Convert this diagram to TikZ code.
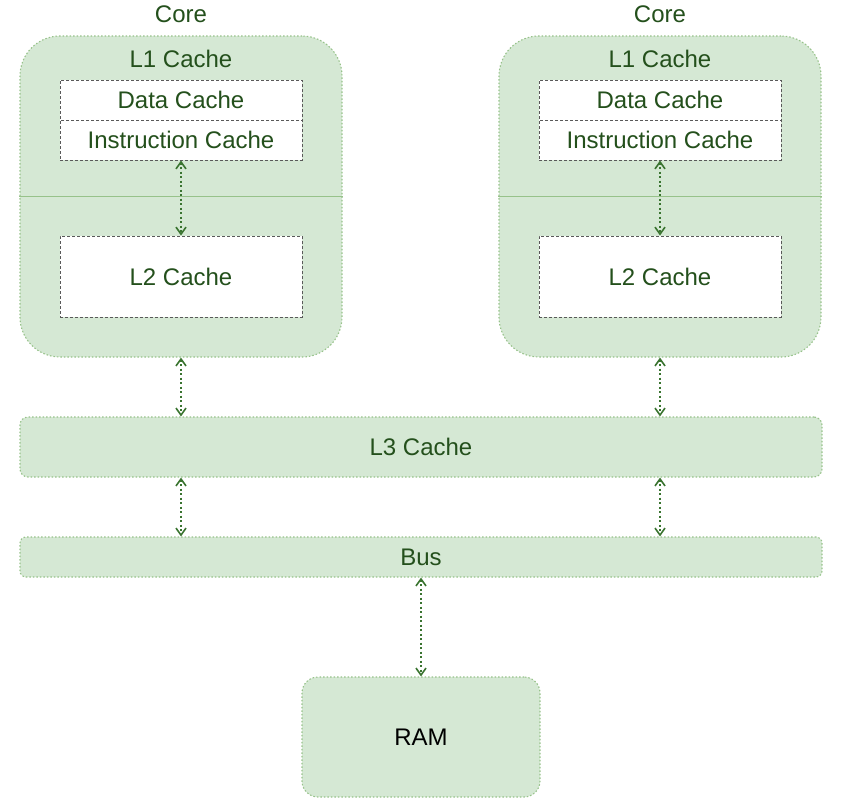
\documentclass[tikz,border=0pt]{standalone}
\usepackage{fontspec}
\setmainfont{Liberation Sans}
\usetikzlibrary{arrows.meta}

\definecolor{cachefill}{HTML}{D5E8D4}
\definecolor{cacheline}{HTML}{97C28A}
\definecolor{cachetext}{HTML}{24501C}
\definecolor{linkgreen}{HTML}{3A7430}

\begin{document}
\begin{tikzpicture}[x=1pt, y=-1pt,
    every node/.style={font=\fontsize{24}{28}\selectfont, text=cachetext, inner sep=0pt},
    greenbox/.style={draw=cacheline, fill=cachefill, line width=1.1pt, dash pattern=on 1.5pt off 2pt},
    whitebox/.style={draw=black!65, fill=white, line width=1pt, dash pattern=on 3pt off 2pt, minimum width=242pt},
    link/.style={draw=linkgreen, line width=1.6pt, dash pattern=on 2pt off 2.5pt, >={Straight Barb[length=7pt,width=10pt]}, <->}]
   \useasboundingbox (0,0) rectangle (844,806);

   \node[greenbox, rounded corners=8pt, minimum width=802pt, minimum height=60pt] (l3) at (421,447) {L3 Cache};
   \node[greenbox, rounded corners=6pt, minimum width=802pt, minimum height=40pt] (bus) at (421,557) {Bus};
   \node[greenbox, rounded corners=16pt, minimum width=238pt, minimum height=120pt, text=black] (ram) at (421,737) {RAM};

   \foreach \cx/\nm in {181/left, 660/right}{
       \node (label-\nm) at (\cx,14) {Core};
       \node[greenbox, rounded corners=40pt, minimum width=322pt, minimum height=321pt] (core-\nm) at (\cx,196.5) {};
       \draw[cacheline, line width=1pt] (core-\nm.west) -- (core-\nm.east);
       \node (l1-\nm) at (\cx,59) {L1 Cache};
       \node[whitebox, minimum height=40pt] (data-\nm) at (\cx,100) {Data Cache};
       \node[whitebox, minimum height=40pt] (instr-\nm) at (\cx,140) {Instruction Cache};
       \node[whitebox, minimum height=81pt] (l2-\nm) at (\cx,276.5) {L2 Cache};

       \draw[link] (instr-\nm.south) -- (l2-\nm.north);
       \draw[link] (core-\nm.south) -- (core-\nm.south |- l3.north);
       \draw[link] (core-\nm.south |- l3.south) -- (core-\nm.south |- bus.north);
   }

   \draw[link] (bus.south) -- (ram.north);

\end{tikzpicture}
\end{document}
